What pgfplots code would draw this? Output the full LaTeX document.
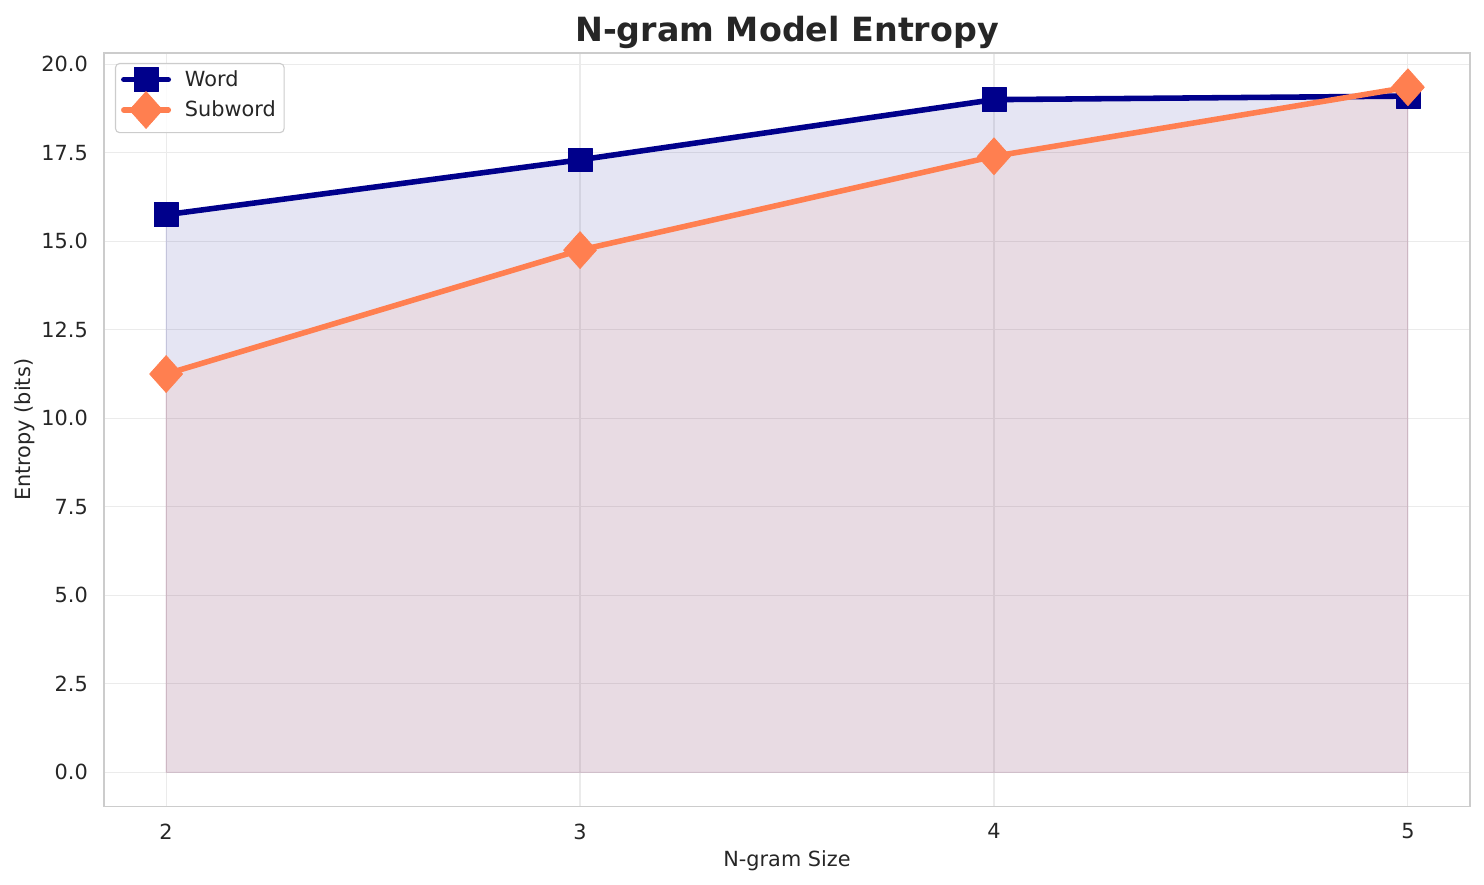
\documentclass[border=0pt]{standalone}
\usepackage{fontspec}
\setmainfont{DejaVu Sans}
\usepackage{pgfplots}
\pgfplotsset{compat=1.18}

\definecolor{wordblue}{HTML}{00008B}
\definecolor{subcoral}{HTML}{FF7F50}
\definecolor{gridgray}{HTML}{EBEBEB}
\definecolor{framegray}{HTML}{CCCCCC}
\definecolor{textgray}{HTML}{262626}

\begin{document}
\begin{tikzpicture}
  \path[use as bounding box] (0,0) rectangle (1068.48pt,637.2pt);
  \begin{axis}[
    at={(74.9pt,56.4pt)}, anchor=south west,
    scale only axis, width=983.5pt, height=542.7pt,
    xmin=1.85, xmax=5.15, ymin=-0.97, ymax=20.32,
    xtick={2,3,4,5},
    ytick={0,2.5,5,7.5,10,12.5,15,17.5,20},
    yticklabel={\pgfmathprintnumber[fixed,fixed zerofill,precision=1]{\tick}},
    /pgf/number format/assume math mode=true,
    axis line style={framegray, line width=1.2pt},
    grid=major,
    major grid style={gridgray, line width=0.8pt},
    major tick length=0pt,
    tick label style={font=\fontsize{15}{18}\selectfont, text=textgray},
    yticklabel style={anchor=east, inner sep=0pt, xshift=-11.5pt},
    xticklabel style={anchor=north, inner sep=0pt, yshift=-12pt},
    title={N-gram Model Entropy},
    title style={font=\fontsize{24}{28}\selectfont\bfseries, text=textgray,
      at={(axis description cs:0.5,1.0041)}, anchor=base, inner sep=0pt, yshift=0pt},
    xlabel={N-gram Size},
    xlabel style={font=\fontsize{15}{18}\selectfont, text=textgray,
      at={(axis description cs:0.5,-0.0796)}, anchor=base, inner sep=0pt},
    ylabel={Entropy (bits)},
    ylabel style={font=\fontsize{15}{18}\selectfont, text=textgray,
      at={(axis description cs:-0.0535,0.5)}, anchor=base, inner sep=0pt},
    legend cell align=left,
    legend image code/.code={
      \draw[sharp corners, mark repeat=2, mark phase=2, fill opacity=1, draw opacity=1, #1]
        plot coordinates {(0pt,0pt) (16pt,0pt) (32pt,0pt)};
    },
    legend style={at={(axis description cs:0.008,0.9867)}, anchor=north west,
      draw=framegray, line width=0.8pt, rounded corners=3pt,
      fill=white, fill opacity=0.8, text opacity=1,
      font=\fontsize{15}{18}\selectfont, text=textgray,
      inner xsep=4pt, inner ysep=3pt, row sep=0pt,
      /tikz/every odd column/.append style={column sep=8pt}},
  ]

    % filled areas under each curve
    \addplot[forget plot, draw=wordblue, draw opacity=0.1, line width=0.8pt,
      fill=wordblue, fill opacity=0.1] coordinates {
      (2,0) (2,15.75) (3,17.3) (4,19.0) (5,19.1) (5,0) (2,0)
    };
    \addplot[forget plot, draw=subcoral, draw opacity=0.1, line width=0.8pt,
      fill=subcoral, fill opacity=0.1] coordinates {
      (2,0) (2,11.25) (3,14.75) (4,17.4) (5,19.35) (5,0) (2,0)
    };

    % word n-grams
    \addplot[wordblue, line width=4pt, line cap=round, line join=round,
      mark=square*, mark size=8.6pt,
      mark options={solid, line width=0.5pt, fill=wordblue}] coordinates {
      (2,15.75) (3,17.3) (4,19.0) (5,19.1)
    };
    \addlegendentry{Word}

    % subword n-grams
    \addplot[subcoral, line width=4pt, line cap=round, line join=round,
      mark=diamond*, mark size=13.3pt,
      mark options={solid, xscale=1.19, line width=0.5pt, fill=subcoral}] coordinates {
      (2,11.25) (3,14.75) (4,17.4) (5,19.35)
    };
    \addlegendentry{Subword}

  \end{axis}
\end{tikzpicture}
\end{document}
